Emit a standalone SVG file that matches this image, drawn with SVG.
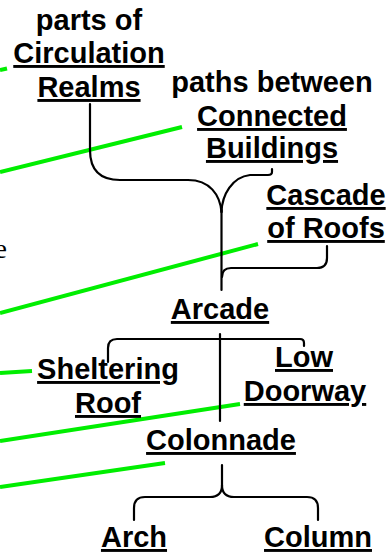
<svg xmlns="http://www.w3.org/2000/svg" width="390" height="557" viewBox="0 0 390 557">
  <style>
    .lbl { font-family: "Liberation Sans", Arial, sans-serif; font-weight: bold; font-size: 29px; fill: #000; text-anchor: middle; }
    .link { text-decoration: underline; }
    .tree { fill: none; stroke: #000; stroke-width: 2.2; stroke-linecap: round; }
    .ref { fill: none; stroke: #00ee00; stroke-width: 4; }
    .stray { font-family: "Liberation Serif", "Times New Roman", serif; font-size: 28px; fill: #000; text-anchor: end; }
  </style>
  <rect width="390" height="557" fill="#fff"/>

  <!-- green reference lines coming in from the left -->
  <g id="refs">
    <line class="ref" x1="0" y1="70" x2="7" y2="68.5"/>
    <line class="ref" x1="0" y1="172" x2="182" y2="127"/>
    <line class="ref" x1="0" y1="313" x2="258" y2="244"/>
    <line class="ref" x1="0" y1="373" x2="32" y2="371"/>
    <line class="ref" x1="0" y1="441" x2="240" y2="404"/>
    <line class="ref" x1="0" y1="487" x2="165" y2="463"/>
  </g>

  <text class="stray" x="7" y="258">e</text>

  <!-- tree connectors -->
  <g id="connectors">
    <path class="tree" d="M90,104 V150 C90,170 100,180 120,180 H188 C210,180 220,195 221.5,212"/>
    <path class="tree" d="M272,169 V172 Q272,175 268,175 H250 C232,177 222,195 221.5,212"/>
    <path class="tree" d="M221.5,210 V290"/>
    <path class="tree" d="M327,246 V258 Q327,268 317,268 H231 Q222,268 222,277"/>
    <path class="tree" d="M220,334 V421"/>
    <path class="tree" d="M108,362 V348 Q108,339 117,339 H300 Q304,339 304,343 V346"/>
    <path class="tree" d="M222,465 V485 Q222,497 210,497 H145 Q134,497 134,508 V520"/>
    <path class="tree" d="M222,485 Q222,497 234,497 H307 Q318,497 318,508 V520"/>
  </g>

  <g id="circulation-realms">
    <text class="lbl" x="89" y="30">parts of</text>
    <text class="lbl link" x="89" y="63">Circulation</text>
    <text class="lbl link" x="89" y="97">Realms</text>
  </g>
  <g id="connected-buildings">
    <text class="lbl" x="272" y="92">paths between</text>
    <text class="lbl link" x="272" y="126">Connected</text>
    <text class="lbl link" x="272" y="158">Buildings</text>
  </g>
  <g id="cascade-of-roofs">
    <text class="lbl link" x="326" y="205">Cascade</text>
    <text class="lbl link" x="326" y="238">of Roofs</text>
  </g>
  <g id="arcade">
    <text class="lbl link" x="220" y="319">Arcade</text>
  </g>
  <g id="sheltering-roof">
    <text class="lbl link" x="108" y="379">Sheltering</text>
    <text class="lbl link" x="108" y="413">Roof</text>
  </g>
  <g id="low-doorway">
    <text class="lbl link" x="304" y="367">Low</text>
    <text class="lbl link" x="305" y="401">Doorway</text>
  </g>
  <g id="colonnade">
    <text class="lbl link" x="221" y="450">Colonnade</text>
  </g>
  <g id="arch">
    <text class="lbl link" x="134" y="547">Arch</text>
  </g>
  <g id="column">
    <text class="lbl link" x="318" y="547">Column</text>
  </g>
</svg>
